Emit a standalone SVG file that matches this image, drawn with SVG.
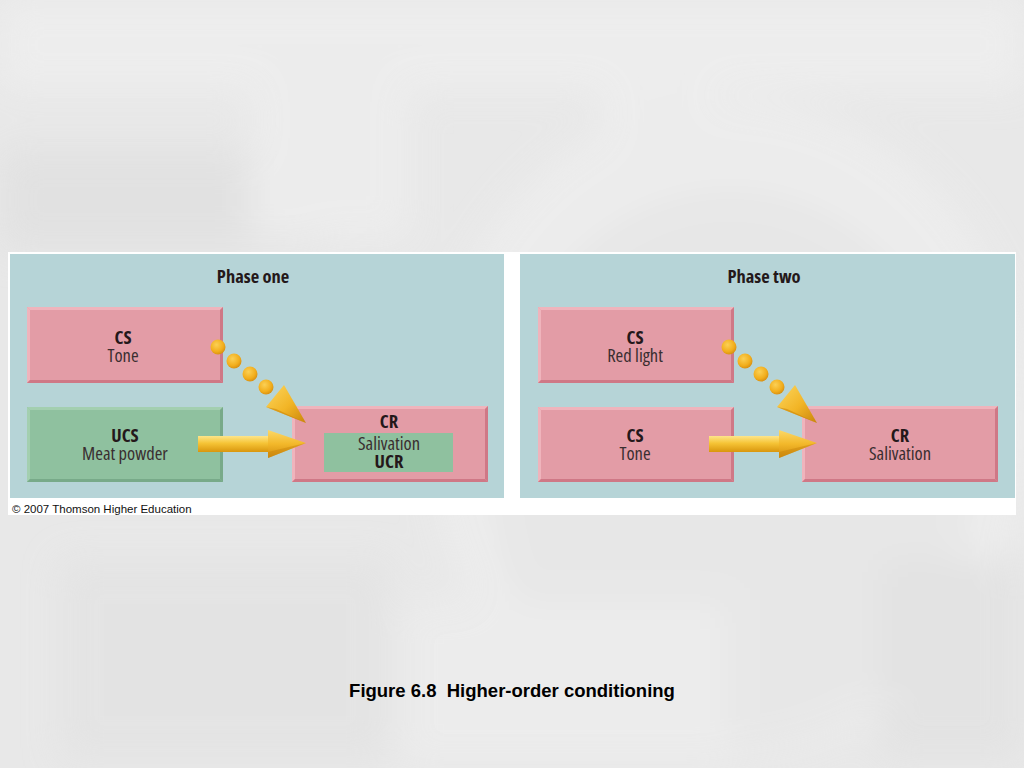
<svg xmlns="http://www.w3.org/2000/svg" width="1024" height="768" viewBox="0 0 1024 768">
<defs>
<filter id="blur" x="-20%" y="-20%" width="140%" height="140%"><feGaussianBlur stdDeviation="18"/></filter>
<linearGradient id="gshaft" x1="0" y1="0" x2="0" y2="1">
<stop offset="0" stop-color="#fde58a"/><stop offset="0.45" stop-color="#f6c436"/><stop offset="1" stop-color="#d9960e"/>
</linearGradient>
<linearGradient id="ghead" x1="0" y1="0" x2="0" y2="1">
<stop offset="0" stop-color="#fbd868"/><stop offset="0.5" stop-color="#f3b82a"/><stop offset="1" stop-color="#d08a0c"/>
</linearGradient>
<linearGradient id="gdiag" x1="0" y1="0" x2="1" y2="1">
<stop offset="0" stop-color="#fbd660"/><stop offset="0.55" stop-color="#f2b526"/><stop offset="1" stop-color="#c9850b"/>
</linearGradient>
<radialGradient id="gdot" cx="0.4" cy="0.35" r="0.65">
<stop offset="0" stop-color="#fbd055"/><stop offset="0.7" stop-color="#f2ae1c"/><stop offset="1" stop-color="#d99214"/>
</radialGradient>
</defs>
<style>
.panel{fill:#b6d4d7}
.pink{fill:#e39ca6}
.pinkD{fill:#cf7886}
.pinkL{fill:#efb4bc}
.green{fill:#8fc19f}
.greenD{fill:#78aa89}
.greenL{fill:#a3cfb0}
.t{font-family:"Open Sans","Roboto",sans-serif;font-stretch:condensed;text-anchor:middle;fill:#3a2e30;font-size:18.5px}
.b{font-weight:bold;fill:#24181a}
.dot{fill:url(#gdot)}
</style>
<!-- background -->
<rect x="0" y="0" width="1024" height="768" fill="#e8e8e8"/>
<g filter="url(#blur)" opacity="0.8">
<rect x="0" y="0" width="1024" height="90" fill="#efefef"/>
<rect x="0" y="150" width="320" height="100" fill="#e0e0e0"/>
<rect x="250" y="60" width="160" height="180" fill="#eeeeee"/>
<rect x="600" y="80" width="120" height="170" fill="#efefef"/>
<ellipse cx="730" cy="430" rx="300" ry="330" fill="#eeeeee"/>
<ellipse cx="730" cy="470" rx="240" ry="280" fill="#e7e7e7"/>
<rect x="60" y="560" width="330" height="200" fill="#e3e3e3"/>
<rect x="880" y="560" width="144" height="200" fill="#e2e2e2"/>
<rect x="400" y="600" width="330" height="168" fill="#ededed"/>
</g>
<!-- white figure frame -->
<rect x="8" y="252" width="1008" height="263" fill="#ffffff"/>
<rect class="panel" x="10" y="254" width="494" height="244"/>
<rect class="panel" x="520" y="254" width="495" height="244"/>

<g id="title-one"><text class="t b" x="253" y="283">Phase one</text></g>
<g id="title-two"><text class="t b" x="764" y="283">Phase two</text></g>

<!-- Phase one nodes -->
<g id="p1-cs-tone">
<rect class="pink" x="27" y="307" width="196" height="76"/>
<polygon class="pinkL" points="27,307 223,307 220,310 30,310"/>
<polygon class="pinkL" points="27,307 30,310 30,380 27,383"/>
<polygon class="pinkD" points="223,307 223,383 220,380 220,310"/>
<polygon class="pinkD" points="27,383 223,383 220,380 30,380"/>
<text class="t b" x="123" y="344">CS</text>
<text class="t" x="123" y="362">Tone</text>
</g>
<g id="p1-ucs">
<rect class="green" x="27" y="407" width="196" height="75"/>
<polygon class="greenL" points="27,407 223,407 220,410 30,410"/>
<polygon class="greenL" points="27,407 30,410 30,479 27,482"/>
<polygon class="greenD" points="223,407 223,482 220,479 220,410"/>
<polygon class="greenD" points="27,482 223,482 220,479 30,479"/>
<text class="t b" x="125" y="442">UCS</text>
<text class="t" x="125" y="460">Meat powder</text>
</g>
<g id="p1-cr">
<rect class="pink" x="292" y="406" width="196" height="76"/>
<polygon class="pinkL" points="292,406 488,406 485,409 295,409"/>
<polygon class="pinkL" points="292,406 295,409 295,479 292,482"/>
<polygon class="pinkD" points="488,406 488,482 485,479 485,409"/>
<polygon class="pinkD" points="292,482 488,482 485,479 295,479"/>
<text class="t b" x="389" y="428">CR</text>
</g>
<g id="p1-ucr">
<rect class="green" x="324" y="433" width="129" height="39"/>
<text class="t" x="389" y="450">Salivation</text>
<text class="t b" x="389" y="468">UCR</text>
</g>

<!-- Phase two nodes -->
<g id="p2-cs-red">
<rect class="pink" x="538" y="307" width="196" height="76"/>
<polygon class="pinkL" points="538,307 734,307 731,310 541,310"/>
<polygon class="pinkL" points="538,307 541,310 541,380 538,383"/>
<polygon class="pinkD" points="734,307 734,383 731,380 731,310"/>
<polygon class="pinkD" points="538,383 734,383 731,380 541,380"/>
<text class="t b" x="635" y="344">CS</text>
<text class="t" x="635" y="362">Red light</text>
</g>
<g id="p2-cs-tone">
<rect class="pink" x="538" y="407" width="196" height="75"/>
<polygon class="pinkL" points="538,407 734,407 731,410 541,410"/>
<polygon class="pinkL" points="538,407 541,410 541,479 538,482"/>
<polygon class="pinkD" points="734,407 734,482 731,479 731,410"/>
<polygon class="pinkD" points="538,482 734,482 731,479 541,479"/>
<text class="t b" x="635" y="442">CS</text>
<text class="t" x="635" y="460">Tone</text>
</g>
<g id="p2-cr">
<rect class="pink" x="802" y="406" width="196" height="76"/>
<polygon class="pinkL" points="802,406 998,406 995,409 805,409"/>
<polygon class="pinkL" points="802,406 805,409 805,479 802,482"/>
<polygon class="pinkD" points="998,406 998,482 995,479 995,409"/>
<polygon class="pinkD" points="802,482 998,482 995,479 805,479"/>
<text class="t b" x="900" y="442">CR</text>
<text class="t" x="900" y="460">Salivation</text>
</g>

<!-- connectors -->
<g id="connectors">
<g id="p1-dotted">
<circle class="dot" cx="218" cy="347" r="7.5"/>
<circle class="dot" cx="234" cy="361" r="7.5"/>
<circle class="dot" cx="250" cy="374" r="7.5"/>
<circle class="dot" cx="266" cy="387" r="7.5"/>
<polygon fill="url(#gdiag)" points="266,407 284,385 306,423"/>
<polygon fill="#c9850b" opacity="0.6" points="266,407 306,423 276,409"/>
</g>
<g id="p1-solid">
<rect x="198" y="436" width="71" height="16" fill="url(#gshaft)"/>
<polygon fill="url(#ghead)" points="268,430 306,443 268,458"/>
<polygon fill="#c9850b" opacity="0.5" points="268,452 306,443 268,458"/>
</g>
<g id="p2-dotted">
<circle class="dot" cx="729" cy="347" r="7.5"/>
<circle class="dot" cx="745" cy="361" r="7.5"/>
<circle class="dot" cx="761" cy="374" r="7.5"/>
<circle class="dot" cx="777" cy="387" r="7.5"/>
<polygon fill="url(#gdiag)" points="777,407 795,385 817,423"/>
<polygon fill="#c9850b" opacity="0.6" points="777,407 817,423 787,409"/>
</g>
<g id="p2-solid">
<rect x="709" y="436" width="71" height="16" fill="url(#gshaft)"/>
<polygon fill="url(#ghead)" points="779,430 817,443 779,458"/>
<polygon fill="#c9850b" opacity="0.5" points="779,452 817,443 779,458"/>
</g>
</g>

<text x="12" y="513" font-family="Liberation Sans, Arial, sans-serif" font-size="11.5" fill="#111">© 2007 Thomson Higher Education</text>
<text x="512" y="697" font-family="Liberation Sans, Arial, sans-serif" font-size="18.5" font-weight="bold" text-anchor="middle" fill="#000">Figure 6.8&#160; Higher-order conditioning</text>
</svg>
